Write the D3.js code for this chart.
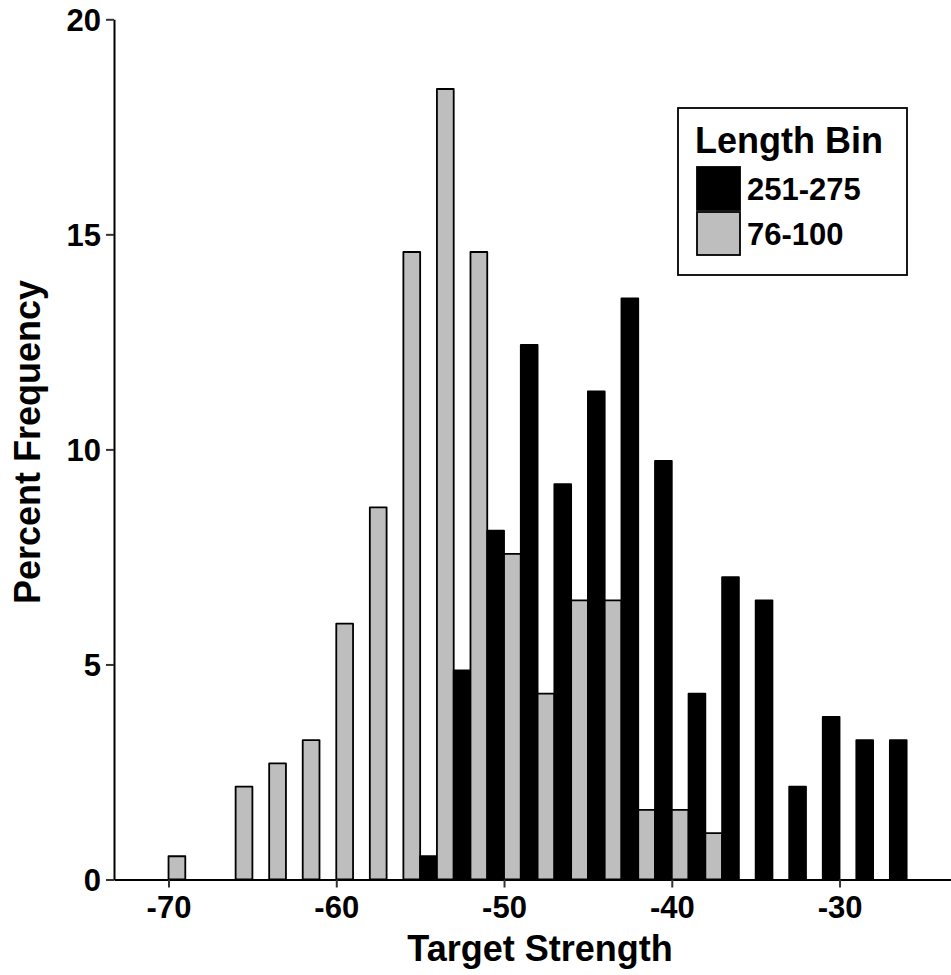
<!DOCTYPE html>
<html>
<head>
<meta charset="utf-8">
<script src="https://cdn.jsdelivr.net/npm/d3@7"></script>
<style>
  html, body { margin: 0; padding: 0; background: #fff; }
  svg { display: block; }
  text { font-family: "Liberation Sans", Arial, "DejaVu Sans", sans-serif; font-weight: bold; fill: #000; }
</style>
</head>
<body>
<div id="chart"></div>
<script>
// Bin centres (Target Strength, dB)
const bins = [-70, -68, -66, -64, -62, -60, -58, -56, -54, -52, -50, -48, -46, -44, -42, -40, -38, -36, -34, -32, -30, -28, -26];
// Percent frequency, length bin 251-275
const len251 = [0, 0, 0, 0, 0, 0, 0, 0, 0.54, 4.86, 8.11, 12.43, 9.19, 11.35, 13.51, 9.73, 4.32, 7.03, 6.49, 2.16, 3.78, 3.24, 3.24];
// Percent frequency, length bin 76-100
const len76 = [0.54, 0, 2.16, 2.70, 3.24, 5.95, 8.65, 14.59, 18.38, 14.59, 7.57, 4.32, 6.49, 6.49, 1.62, 1.62, 1.08, 0, 0, 0, 0, 0, 0];
const seriesNames = ["251-275", "76-100"];
const seriesColors = ["#000000", "#bebebe"];
const xTicks = [-70, -60, -50, -40, -30];
const yTicks = [0, 5, 10, 15, 20];

const W = 951, H = 975;
const svg = d3.select("#chart").append("svg").attr("width", W).attr("height", H);

const x = d3.scaleLinear().domain([-73.25, -22.7]).range([114, 962]);
const y = d3.scaleLinear().domain([0, 20]).range([879.5, 19.3]);

// bars: 251-275 on the left half [v-1, v], 76-100 on the right half [v, v+1]
const rows = [];
bins.forEach((b, i) => {
  rows.push({ s: 0, x0: b - 1, x1: b, v: len251[i] });
  rows.push({ s: 1, x0: b, x1: b + 1, v: len76[i] });
});
svg.append("g").selectAll("rect").data(rows.filter(d => d.v > 0)).join("rect")
  .attr("x", d => x(d.x0))
  .attr("width", d => x(d.x1) - x(d.x0))
  .attr("y", d => y(d.v))
  .attr("height", d => y(0) - y(d.v))
  .attr("fill", d => seriesColors[d.s])
  .attr("stroke", "#000")
  .attr("stroke-width", 1.8)
  .attr("stroke-linejoin", "round");

// axes
const xAxis = svg.append("g").attr("transform", `translate(0,${y(0)})`)
  .call(d3.axisBottom(x).tickValues(xTicks).tickSize(8).tickSizeOuter(0).tickPadding(8).tickFormat(d => String(d)));
const yAxis = svg.append("g").attr("transform", `translate(${x.range()[0]},0)`)
  .call(d3.axisLeft(y).tickValues(yTicks).tickSize(8).tickSizeOuter(0).tickPadding(5).tickFormat(d => String(d)));

[xAxis, yAxis].forEach(g => {
  g.select(".domain").attr("stroke", "#000").attr("stroke-width", 2);
  g.selectAll(".tick line").attr("stroke", "#333").attr("stroke-width", 2);
  g.selectAll(".tick text").style("font-size", "31px").style("font-weight", "bold")
    .style("font-family", '"Liberation Sans", Arial, sans-serif').attr("fill", "#000");
});
yAxis.selectAll(".tick text").attr("dy", "0.36em");

// axis titles
svg.append("text").attr("x", 540).attr("y", 961).attr("text-anchor", "middle")
  .style("font-size", "36px").text("Target Strength");
svg.append("text").attr("transform", "translate(40,442) rotate(-90)").attr("text-anchor", "middle")
  .style("font-size", "36px").text("Percent Frequency");

// legend
const lg = svg.append("g");
lg.append("rect").attr("x", 678).attr("y", 108).attr("width", 229).attr("height", 167)
  .attr("fill", "#fff").attr("stroke", "#000").attr("stroke-width", 1.8);
lg.append("text").attr("x", 695).attr("y", 153).style("font-size", "36px").text("Length Bin");
seriesNames.forEach((n, i) => {
  const ky = 167 + i * 45;
  lg.append("rect").attr("x", 697).attr("y", ky).attr("width", 43).attr("height", 43)
    .attr("fill", seriesColors[i]).attr("stroke", "#000").attr("stroke-width", 1.8);
  lg.append("text").attr("x", 747).attr("y", ky + 22).attr("dy", "0.36em")
    .style("font-size", "31px").text(n);
});
</script>
</body>
</html>
